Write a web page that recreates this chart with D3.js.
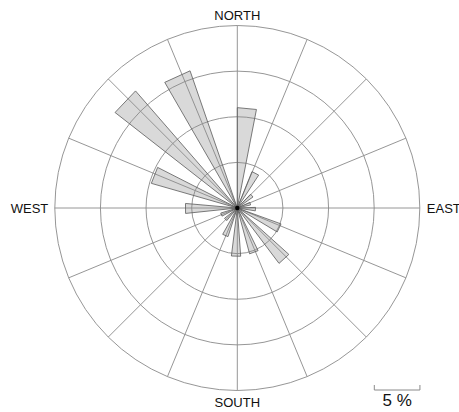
<!DOCTYPE html>
<html>
<head>
<meta charset="utf-8">
<script src="https://cdn.jsdelivr.net/npm/d3@7"></script>
<style>
  html, body { margin: 0; padding: 0; background: #fff; }
  svg { display: block; }
  text { font-family: "Liberation Sans", Arial, Helvetica, sans-serif; fill: #111; }
</style>
</head>
<body>
<svg id="rose" width="459" height="412"></svg>
<script>
// Wind direction sectors, clockwise from north
const directions = ["N", "NNE", "NE", "ENE", "E", "ESE", "SE", "SSE",
                    "S", "SSW", "SW", "WSW", "W", "WNW", "NW", "NNW"];
// Frequency of each direction (%)
const frequency = [11.0, 4.3, 2.1, 1.5, 2.0, 5.1, 7.6, 5.2,
                   5.3, 3.3, 1.8, 1.9, 5.7, 9.8, 17.0, 15.9];
// Rings drawn at these frequencies (%)
const ringTicks = [5, 10, 15, 20];
// Compass labels
const compassLabels = ["NORTH", "EAST", "SOUTH", "WEST"];
const scaleBarValue = 5;

const svg = d3.select("#rose");
const cx = 237.3, cy = 208, outerR = 182.5;

const r = d3.scaleLinear().domain([0, 20]).range([0, outerR]);
// Angular position of each sector (degrees, clockwise from north)
const angle = d3.scaleBand()
  .domain(directions)
  .range([0, 352])
  .paddingInner(0.5)
  .paddingOuter(0.25)
  .align(0);

const rad = d => d * Math.PI / 180;
const pt = (deg, rr) => [rr * Math.sin(rad(deg)), -rr * Math.cos(rad(deg))];

const g = svg.append("g").attr("transform", `translate(${cx},${cy})`);

// Petals
const petals = g.append("g");
directions.forEach((d, i) => {
  const a0 = angle(d), a1 = a0 + angle.bandwidth();
  const rr = r(frequency[i]);
  const p = d3.path();
  p.moveTo(0, 0);
  p.lineTo(...pt(a0, rr));
  p.lineTo(...pt(a1, rr));
  p.closePath();
  petals.append("path")
    .attr("d", p.toString())
    .attr("fill", "#d9d9d9")
    .attr("stroke", "none");
});

// Grid: rings and 16 spokes
const grid = g.append("g").attr("fill", "none").attr("stroke", "#8a8a8a").attr("stroke-width", 0.9);
ringTicks.forEach(t => grid.append("circle").attr("r", r(t)));
d3.range(16).forEach(k => {
  const [x, y] = pt(k * 22.5, outerR);
  grid.append("line").attr("x1", 0).attr("y1", 0).attr("x2", x).attr("y2", y);
});

// Petal outlines on top
directions.forEach((d, i) => {
  const a0 = angle(d), a1 = a0 + angle.bandwidth();
  const rr = r(frequency[i]);
  const p = d3.path();
  p.moveTo(0, 0);
  p.lineTo(...pt(a0, rr));
  p.lineTo(...pt(a1, rr));
  p.closePath();
  g.append("path")
    .attr("d", p.toString())
    .attr("fill", "none")
    .attr("stroke", "#5a5a5a")
    .attr("stroke-width", 0.8);
});

g.append("circle").attr("r", 2.2).attr("fill", "#000");

// Compass labels
const fs = 13;
g.append("text").text(compassLabels[0]).attr("x", 0).attr("y", -outerR - 6)
  .attr("text-anchor", "middle").attr("font-size", fs);
g.append("text").text(compassLabels[1]).attr("x", outerR + 7).attr("y", 5)
  .attr("text-anchor", "start").attr("font-size", fs);
g.append("text").text(compassLabels[2]).attr("x", 0).attr("y", outerR + 16)
  .attr("text-anchor", "middle").attr("font-size", fs);
g.append("text").text(compassLabels[3]).attr("x", -outerR - 6.5).attr("y", 5)
  .attr("text-anchor", "end").attr("font-size", fs);

// Scale bar
const sbX = 374.3, sbY = 390, sbW = r(scaleBarValue);
const sb = svg.append("g").attr("stroke", "#8a8a8a").attr("stroke-width", 1).attr("fill", "none");
sb.append("path").attr("d", `M${sbX},${sbY - 5}V${sbY}H${sbX + sbW}V${sbY - 5}`);
svg.append("text").text(`${scaleBarValue} %`)
  .attr("x", sbX + sbW / 2).attr("y", 406)
  .attr("text-anchor", "middle").attr("font-size", 17);
</script>
</body>
</html>
